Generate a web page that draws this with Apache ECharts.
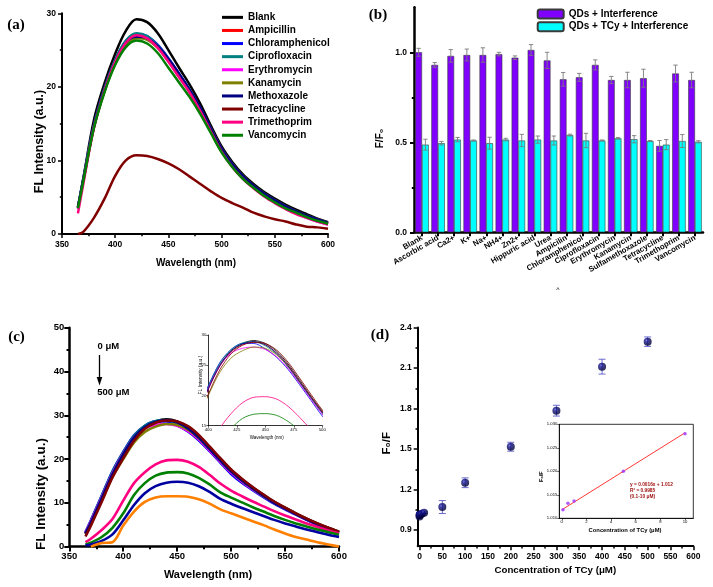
<!DOCTYPE html>
<html><head><meta charset="utf-8">
<script src="https://cdn.jsdelivr.net/npm/echarts@6/dist/echarts.min.js"></script>
<style>html,body{margin:0;padding:0;background:#fff}#c{width:713px;height:587px}</style>
</head><body><div id="c"></div><script>
// ---------- Panel (a) ----------
const WL = [365,370,380,390,400,410,420,430,440,450,460,470,480,490,500,510,520,530,540,550,560,570,580,590,600];
const A_NAMES = ['Blank','Ampicillin','Chloramphenicol','Ciprofloxacin','Erythromycin','Kanamycin','Methoxazole','Tetracycline','Trimethoprim','Vancomycin'];
const A_COLORS = ['#000000','#ff0000','#0000ff','#008080','#ff00ff','#808000','#000080','#800000','#ff0080','#008000'];
const A_BLANK = [3.6,7.5,15.5,20.5,24.5,27.6,29.2,28.8,27.3,25.0,22.6,20.3,17.7,14.7,11.9,9.8,8.1,6.8,5.7,4.8,4.0,3.3,2.7,2.1,1.6];
const A_AMPICILLIN = [3.6,7.3,14.6,19.6,23.4,26.0,27.0,26.7,25.5,23.7,21.6,19.5,17.0,14.2,11.5,9.4,7.8,6.5,5.4,4.5,3.7,3.0,2.4,1.9,1.4];
const A_CHLORAMPHENICOL = [3.7,7.5,14.8,19.8,23.6,26.2,27.2,26.9,25.7,23.9,21.8,19.6,17.1,14.3,11.6,9.5,7.8,6.5,5.4,4.5,3.7,3.0,2.4,1.9,1.5];
const A_CIPROFLOXACIN = [3.6,7.4,14.7,19.8,23.7,26.3,27.3,26.9,25.6,23.8,21.6,19.4,16.9,14.1,11.4,9.3,7.7,6.4,5.3,4.4,3.6,2.9,2.3,1.8,1.4];
const A_ERYTHROMYCIN = [3.4,7.2,14.5,19.5,23.3,25.9,26.9,26.6,25.4,23.5,21.4,19.3,16.8,14.0,11.3,9.2,7.6,6.3,5.2,4.3,3.5,2.8,2.2,1.7,1.3];
const A_KANAMYCIN = [3.6,7.3,14.5,19.4,23.1,25.6,26.6,26.4,25.3,23.6,21.6,19.5,17.0,14.3,11.6,9.5,7.9,6.6,5.5,4.6,3.8,3.1,2.5,2.0,1.5];
const A_METHOXAZOLE = [3.6,7.3,14.6,19.6,23.4,26.0,26.8,26.6,25.5,23.8,21.8,19.6,17.1,14.3,11.6,9.5,7.9,6.6,5.5,4.6,3.8,3.1,2.5,2.0,1.5];
const A_TETRACYCLINE = [0.0,0.3,2.2,4.8,7.9,10.0,10.7,10.6,10.2,9.6,8.8,7.8,6.8,5.8,4.9,4.2,3.6,2.9,2.4,2.0,1.7,1.3,1.0,0.9,0.7];
const A_TRIMETHOPRIM = [2.8,6.8,14.4,19.5,23.4,26.0,27.0,26.6,25.3,23.4,21.3,19.2,16.7,13.9,11.2,9.1,7.5,6.2,5.1,4.2,3.4,2.7,2.2,1.7,1.3];
const A_VANCOMYCIN = [3.5,7.2,14.4,19.3,23.0,25.4,26.3,25.9,24.6,22.6,20.6,18.6,16.3,13.7,11.1,9.1,7.5,6.3,5.2,4.3,3.5,2.9,2.3,1.8,1.4];
const A_DATA = [A_BLANK,A_AMPICILLIN,A_CHLORAMPHENICOL,A_CIPROFLOXACIN,A_ERYTHROMYCIN,A_KANAMYCIN,A_METHOXAZOLE,A_TETRACYCLINE,A_TRIMETHOPRIM,A_VANCOMYCIN];

// ---------- Panel (b) ----------
const B_CATS = ['Blank','Ascorbic acid','Ca2+','K+','Na+','NH4+','Zn2+','Hippuric acid','Urea','Ampicilin','Chloramphenicol','Ciprofloxacin','Erythromycin','Kanamycin','Sulfamethoxazole','Tetracycline','Trimethoprim','Vancomycin'];
const B_QD = [1.0,0.93,0.98,0.985,0.985,0.99,0.97,1.013,0.955,0.85,0.861,0.93,0.846,0.846,0.856,0.48,0.882,0.846];
const B_QD_ERR = [0.022,0.013,0.035,0.033,0.04,0.01,0.01,0.03,0.045,0.038,0.022,0.028,0.02,0.043,0.05,0.03,0.047,0.043];
const B_TCY = [0.487,0.495,0.515,0.51,0.495,0.515,0.51,0.515,0.51,0.54,0.51,0.51,0.522,0.517,0.507,0.487,0.507,0.503];
const B_TCY_ERR = [0.03,0.01,0.012,0.003,0.033,0.007,0.034,0.02,0.025,0.005,0.04,0.003,0.004,0.02,0.003,0.028,0.036,0.006];
const B_NAMES = ['QDs + Interference','QDs + TCy + Interference'];

// ---------- Panel (c) ----------
const C_COLORS = ['#000000','#ff0000','#0000ff','#008080','#ff00ff','#808000','#000080','#800000','#ff0080','#008000','#0000a0','#ff8000'];
const C_BLACK = [3.0,5.5,11.0,16.5,21.2,25.0,27.4,28.6,29.1,28.6,27.3,25.2,22.6,19.9,17.4,15.3,13.5,11.8,10.2,8.9,7.6,6.4,5.3,4.3,3.4];
const C_RED = [3.0,5.4,10.9,16.4,21.0,24.8,27.2,28.4,28.8,28.4,27.0,25.0,22.4,19.8,17.3,15.2,13.4,11.7,10.1,8.8,7.5,6.3,5.2,4.2,3.3];
const C_BLUE = [3.3,6.0,11.6,17.2,21.6,25.4,27.6,28.6,28.6,27.7,26.3,24.3,21.8,19.2,16.6,14.6,12.9,11.3,9.8,8.5,7.3,6.1,5.0,4.0,3.1];
const C_TEAL = [3.2,5.9,11.5,17.1,21.5,25.3,27.6,28.7,28.9,28.2,26.8,24.7,22.1,19.5,17.0,14.9,13.1,11.5,10.0,8.7,7.4,6.2,5.1,4.1,3.2];
const C_MAGENTA = [3.1,5.7,11.2,16.7,21.2,24.9,27.0,27.8,28.0,27.6,26.4,24.5,22.0,19.4,16.9,14.9,13.1,11.5,10.0,8.7,7.4,6.2,5.1,4.1,3.2];
const C_OLIVE = [2.8,5.2,10.5,15.9,20.0,23.8,26.2,27.4,28.0,27.8,26.7,24.8,22.3,19.7,17.2,15.1,13.3,11.6,10.1,8.8,7.5,6.3,5.2,4.2,3.3];
const C_NAVY = [3.0,5.5,11.0,16.5,21.1,24.9,27.3,28.5,28.9,28.4,27.0,24.9,22.3,19.7,17.2,15.1,13.3,11.6,10.0,8.7,7.4,6.2,5.1,4.1,3.2];
const C_MAROON = [2.3,4.8,10.2,15.8,20.2,24.2,26.9,28.3,28.8,28.6,27.5,25.5,22.9,20.2,17.6,15.5,13.6,11.9,10.3,8.9,7.6,6.4,5.3,4.3,3.4];
const C_PINK = [1.0,1.8,3.8,6.3,10.5,14.5,17.0,18.8,19.7,19.8,19.4,18.2,16.4,14.4,12.8,11.5,10.3,9.2,8.1,7.1,6.2,5.3,4.5,3.7,3.0];
const C_GREEN = [0.5,0.9,2.2,4.3,7.6,11.8,14.5,16.2,16.9,17.0,16.7,15.7,14.2,12.4,11.2,10.1,9.0,8.0,7.0,6.1,5.3,4.6,3.9,3.3,2.7];
const C_BLUE2 = [0.3,0.5,1.3,2.8,6.0,9.5,12.2,13.8,14.6,14.8,14.6,13.8,12.5,10.9,9.8,8.8,7.9,7.0,6.1,5.3,4.6,3.9,3.3,2.7,2.2];
const C_ORANGE = [null,0.0,0.8,1.0,4.8,8.0,10.2,11.2,11.5,11.5,11.4,10.8,9.8,8.5,7.6,6.7,5.8,4.9,3.9,3.0,2.2,1.6,1.0,0.5,0.0];
const C_DATA = [C_BLACK,C_RED,C_BLUE,C_TEAL,C_MAGENTA,C_OLIVE,C_NAVY,C_MAROON,C_PINK,C_GREEN,C_BLUE2,C_ORANGE];

// ---------- Panel (d) ----------
const D_X = [0,0.1,0.5,1,5,10,50,100,200,300,400,500];
const D_Y = [1.0,1.012,1.013,1.014,1.02,1.028,1.07,1.25,1.517,1.784,2.11,2.295];
const D_ERR = [0.005,0.004,0.004,0.004,0.005,0.006,0.048,0.036,0.033,0.04,0.055,0.035];
const DI_X = [0.1,0.5,1,5,10];
const DI_Y = [1.0118,1.0132,1.0137,1.0200,1.0280];
const FIT_X = [0,10];
const FIT_Y = [1.0118,1.0282];

// ---------- helpers ----------
const FF = '"Liberation Sans", Arial, sans-serif';
const zip = (xs, ys) => xs.map((x, i) => [x, ys[i]]);
const xAxes = [], yAxes = [];
function valAxes(list, dir, grid, min, max, major, minor, fmt, st) {
  const base = {type:'value', gridIndex:grid, min:min, max:max, position: dir === 'x' ? 'bottom' : 'left', splitLine:{show:false}};
  const main = Object.assign({}, base, {
    axisLine:{show:true, onZero:false, lineStyle:{color:'#000', width:st.lw}},
    axisTick:{show:true, customValues:major, length:st.tl, lineStyle:{color:'#000', width:st.tw}},
    axisLabel:{show:true, customValues:major, formatter:fmt, color:'#000', fontFamily:FF, fontWeight:st.fw || 'bold', fontSize:st.fs, margin:st.m, hideOverlap:false}
  });
  const idx = list.length;
  list.push(main);
  if (minor && minor.length) {
    list.push(Object.assign({}, base, {
      axisLine:{show:false, onZero:false}, axisLabel:{show:false},
      axisTick:{show:true, customValues:minor, length:st.tl * 0.55, lineStyle:{color:'#000', width:st.tw}}
    }));
  }
  return idx;
}
const id = v => String(v);
const stA = {lw:2, tl:4, tw:1.5, fs:8.5, m:6};
const stB = {lw:2.5, tl:4, tw:2, fs:8.5, m:7};
const stC = {lw:2.5, tl:5, tw:2, fs:9.5, m:5};
const stD = {lw:2, tl:4, tw:1.5, fs:8.5, m:6};
const stCi = {lw:0.8, tl:2, tw:0.6, fs:4.3, m:2, fw:'normal'};
const stDi = {lw:0.8, tl:2, tw:0.6, fs:4.2, m:2, fw:'normal'};

// grid 0: (a)
const ax0 = valAxes(xAxes, 'x', 0, 350, 600, [350,400,450,500,550,600], [375,425,475,525,575], id, stA);
const ay0 = valAxes(yAxes, 'y', 0, 0, 30, [0,10,20,30], [5,15,25], id, stA);
// grid 1: (b)
const ax1 = xAxes.length;
xAxes.push({type:'category', gridIndex:1, data:B_CATS, position:'bottom',
  axisLine:{show:true, onZero:false, lineStyle:{color:'#000', width:stB.lw}},
  axisTick:{show:true, alignWithLabel:true, length:4, lineStyle:{color:'#000', width:2}},
  axisLabel:{interval:0, rotate:30, color:'#000', fontFamily:FF, fontWeight:'bold', fontSize:7.8, margin:5}});
const ay1 = valAxes(yAxes, 'y', 1, 0, 1.25, [0,0.5,1.0], [0.25,0.75], v => v.toFixed(1), stB);
// grid 2: (c)
const ax2 = valAxes(xAxes, 'x', 2, 350, 600, [350,400,450,500,550,600], [375,425,475,525,575], id, stC);
const ay2 = valAxes(yAxes, 'y', 2, 0, 50, [0,10,20,30,40,50], [5,15,25,35,45], id, stC);
// grid 3: (c) inset
const ax3 = valAxes(xAxes, 'x', 3, 400, 500, [400,425,450,475,500], [], id, stCi);
const ay3 = valAxes(yAxes, 'y', 3, 15, 30, [15,20,25,30], [], id, stCi);
// grid 4: (d)
const ax4 = valAxes(xAxes, 'x', 4, -4, 600, [0,50,100,150,200,250,300,350,400,450,500,550,600], [25,75,125,175,225,275,325,375,425,475,525,575], id, stD);
const ay4 = valAxes(yAxes, 'y', 4, 0.78, 2.4, [0.9,1.2,1.5,1.8,2.1,2.4], [1.05,1.35,1.65,1.95,2.25], v => v.toFixed(1), stD);
// grid 5: (d) inset
const ax5 = valAxes(xAxes, 'x', 5, -0.2, 10.67, [0,2,4,6,8,10], [], id, stDi);
const ay5 = valAxes(yAxes, 'y', 5, 1.010, 1.030, [1.010,1.015,1.020,1.025,1.030], [], v => v.toFixed(3), stDi);

const series = [];
// (a) lines
A_NAMES.forEach((n, i) => series.push({type:'line', name:n, xAxisIndex:ax0, yAxisIndex:ay0, data:zip(WL, A_DATA[i]),
  symbol:'none', smooth:0.35, lineStyle:{width:2.5, color:A_COLORS[i]}, itemStyle:{color:A_COLORS[i]}, z:3}));
// (b) bars
const barStyle = c => ({color:c, borderColor:'#3a3a3a', borderWidth:0.6});
series.push({type:'bar', name:B_NAMES[0], xAxisIndex:ax1, yAxisIndex:ay1, data:B_QD, barGap:'0%', barCategoryGap:'16%', itemStyle:barStyle('#7f00ff')});
series.push({type:'bar', name:B_NAMES[1], xAxisIndex:ax1, yAxisIndex:ay1, data:B_TCY, barGap:'0%', barCategoryGap:'16%', itemStyle:barStyle('#00ffff')});
const barErrData = B_QD.map((v, i) => [i, v, B_QD_ERR[i], -1]).concat(B_TCY.map((v, i) => [i, v, B_TCY_ERR[i], 1]));
series.push({type:'custom', xAxisIndex:ax1, yAxisIndex:ay1, data:barErrData, z:10, encode:{x:0, y:1},
  renderItem:function(p, api){
    const i = api.value(0), v = api.value(1), e = api.value(2), side = api.value(3);
    const band = api.size([1, 0])[0];
    const bw = band * 0.84 / 2;
    const cx = api.coord([i, v])[0] + side * bw / 2;
    const t = api.coord([i, v + e])[1], b = api.coord([i, v - e])[1];
    const cap = bw * 0.32;
    const st = {stroke:'#7a7a7a', lineWidth:0.9};
    return {type:'group', children:[
      {type:'line', shape:{x1:cx, y1:t, x2:cx, y2:b}, style:st},
      {type:'line', shape:{x1:cx - cap, y1:t, x2:cx + cap, y2:t}, style:st},
      {type:'line', shape:{x1:cx - cap, y1:b, x2:cx + cap, y2:b}, style:st}]};
  }});
// (c) lines + inset
C_DATA.forEach((d, i) => {
  series.push({type:'line', xAxisIndex:ax2, yAxisIndex:ay2, data:zip(WL, d), symbol:'none', smooth:0.3, connectNulls:false,
    lineStyle:{width:2.6, color:C_COLORS[i]}, z:3});
  series.push({type:'line', xAxisIndex:ax3, yAxisIndex:ay3, data:zip(WL, d), symbol:'none', smooth:0.3, clip:true,
    lineStyle:{width:0.8, color:C_COLORS[i]}, z:3});
});
// (d) scatter + error bars
series.push({type:'custom', xAxisIndex:ax4, yAxisIndex:ay4, data:D_X.map((x, i) => [x, D_Y[i], D_ERR[i]]), z:4, encode:{x:0, y:1},
  renderItem:function(p, api){
    const x = api.value(0), v = api.value(1), e = api.value(2);
    const cx = api.coord([x, v])[0];
    const t = api.coord([x, v + e])[1], b = api.coord([x, v - e])[1];
    const st = {stroke:'#5a5ac8', lineWidth:0.9};
    return {type:'group', children:[
      {type:'line', shape:{x1:cx, y1:t, x2:cx, y2:b}, style:st},
      {type:'line', shape:{x1:cx - 3.5, y1:t, x2:cx + 3.5, y2:t}, style:st},
      {type:'line', shape:{x1:cx - 3.5, y1:b, x2:cx + 3.5, y2:b}, style:st}]};
  }});
series.push({type:'scatter', xAxisIndex:ax4, yAxisIndex:ay4, data:zip(D_X, D_Y), symbolSize:8, z:5,
  itemStyle:{color:{type:'radial', x:0.35, y:0.35, r:0.6, colorStops:[{offset:0, color:'#5a5ad0'}, {offset:0.3, color:'#14148c'}, {offset:1, color:'#00003a'}]}}});
// (d) inset
series.push({type:'line', xAxisIndex:ax5, yAxisIndex:ay5, data:zip(FIT_X, FIT_Y), symbol:'none', lineStyle:{width:0.9, color:'#ff2020'}, z:3});
series.push({type:'scatter', xAxisIndex:ax5, yAxisIndex:ay5, data:zip(DI_X, DI_Y), symbolSize:3.5, itemStyle:{color:'#9933ff'}, z:4});

// ---------- annotations ----------
const txt = (t, x, y, size, opt) => Object.assign({type:'text', x:x, y:y, z:100, style:Object.assign({text:t, fill:'#000',
  font:'bold ' + size + 'px ' + FF, align:'center', verticalAlign:'middle', textAlign:'center', textVerticalAlign:'middle'}, (opt && opt.style) || {})}, opt && opt.rot ? {rotation:Math.PI / 2} : {});
const SERIF = '"Liberation Serif", "Times New Roman", serif';
const graphic = [
  txt('(a)', 16, 25, 15, {style:{font:'bold 15px ' + SERIF}}),
  txt('(b)', 378, 15, 15, {style:{font:'bold 15px ' + SERIF}}),
  txt('(c)', 16.5, 336.7, 15, {style:{font:'bold 15px ' + SERIF}}),
  txt('(d)', 380, 335.5, 15, {style:{font:'bold 15px ' + SERIF}}),
  txt('FL Intensity (a.u.)', 40, 141.5, 12.5, {rot:true}),
  txt('Wavelength (nm)', 196, 263, 10),
  txt('F/F\u2080', 380, 138.5, 10, {rot:true}),
  txt('FL Intensity (a.u.)', 41.7, 494, 13.5, {rot:true}),
  txt('Wavelength (nm)', 208, 575, 11),
  txt('FL Intensity (a.u.)', 200.5, 375, 5, {rot:true, style:{font:'5px ' + FF}}),
  txt('Wavelength (nm)', 266.7, 437.3, 4.5, {style:{font:'4.5px ' + FF}}),
  txt('F\u2080/F', 386.7, 443.3, 11.5, {rot:true}),
  txt('Concentration of TCy (\u03bcM)', 555.3, 570, 9.7),
  txt('F\u2080/F', 541, 476.7, 5.5, {rot:true}),
  txt('Concentration of TCy (\u03bcM)', 625, 530.7, 5.8),
  txt('y = 0.0016x + 1.012', 630, 485, 4.8, {style:{align:'left', textAlign:'left', fill:'#a01010'}}),
  txt('R\u00b2 = 0.9985', 630, 490.8, 4.8, {style:{align:'left', textAlign:'left', fill:'#a01010'}}),
  txt('(0.1-10 \u03bcM)', 630, 496.7, 4.8, {style:{align:'left', textAlign:'left', fill:'#a01010'}}),
  txt('0 \u03bcM', 97.5, 346.7, 9.5, {style:{align:'left', textAlign:'left'}}),
  txt('500 \u03bcM', 97.3, 392.5, 9.5, {style:{align:'left', textAlign:'left'}}),
  txt('^', 558, 290, 7, {style:{font:'7px ' + FF}}),
  {type:'line', z:100, shape:{x1:99.5, y1:355, x2:99.5, y2:380}, style:{stroke:'#000', lineWidth:1.3}},
  {type:'polygon', z:100, shape:{points:[[96.7, 377], [102.3, 377], [99.5, 385.5]]}, style:{fill:'#000'}}
];

const option = {
  animation:false,
  backgroundColor:'#fff',
  grid:[
    {left:62, top:13.3, width:266, height:220.7},
    {left:414, top:7.3, width:289, height:225},
    {left:69.3, top:327.7, width:269.7, height:218.9},
    {left:208.3, top:335, width:114, height:90.7},
    {left:417.7, top:327.5, width:275.6, height:218.7},
    {left:559.3, top:424.3, width:134, height:94, show:true, borderColor:'#000', borderWidth:0.8, backgroundColor:'#fff'}
  ],
  xAxis:xAxes, yAxis:yAxes,
  legend:[
    {data:A_NAMES, left:222, top:10.8, orient:'vertical', icon:'rect', itemWidth:21, itemHeight:3, itemGap:0, padding:0, selectedMode:false,
      textStyle:{fontFamily:FF, fontWeight:'bold', fontSize:10, color:'#000', lineHeight:13.1}},
    {data:B_NAMES, left:536.7, top:7.6, orient:'vertical', itemWidth:26, itemHeight:9, itemGap:0, padding:0, selectedMode:false,
      textStyle:{fontFamily:FF, fontWeight:'bold', fontSize:10, color:'#000', lineHeight:12.7}}
  ],
  series:series,
  graphic:graphic
};
const chart = echarts.init(document.getElementById('c'), null, {renderer:'canvas'});
chart.setOption(option);
</script></body></html>
